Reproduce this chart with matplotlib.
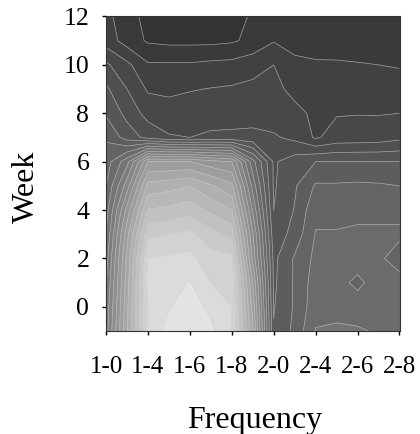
import matplotlib
matplotlib.use('Agg')
import matplotlib.pyplot as plt
import numpy as np

plt.rcParams['font.family'] = ['Liberation Serif', 'DejaVu Serif']

# frequency columns run in half tick steps, weeks run from -1 to 12
freq_pos = [0, .5, 1, 1.5, 2, 2.5, 3, 3.5, 4, 4.5, 5, 5.5, 6, 6.5, 7]
freq_ticks = [0, 1, 2, 3, 4, 5, 6, 7]
freq_labels = ['1-0', '1-4', '1-6', '1-8', '2-0', '2-4', '2-6', '2-8']
weeks = [12, 11, 10, 9, 8, 7, 6, 5, 4, 3, 2, 1, 0, -1]
week_ticks = [0, 2, 4, 6, 8, 10, 12]

# one row per week, top of the chart first
w12 = [66, 60, 53, 52, 52, 52, 53, 57, 58, 58, 58, 58, 58, 58, 58]
w11 = [68.5, 60.5, 55, 54, 54, 54, 55, 58, 63.5, 61, 60.5, 60, 60, 60, 60]
w10 = [81.5, 74, 65, 65, 65, 66, 66.5, 69, 72, 66, 65, 65, 64.5, 64, 63.4]
w9 = [89.5, 80, 71, 71, 71.5, 72.3, 73, 74, 74, 70, 69, 68.5, 68, 68, 67.5]
w8 = [95, 85.5, 77, 74, 76, 75, 76, 77, 76, 74, 70.5, 71.5, 71.7, 71.6, 72]
w7 = [103, 92.5, 85.5, 81, 80, 82, 82, 82, 81, 78, 71, 75, 75.5, 76, 78]
w6 = [108, 125, 160, 160, 160, 155, 152, 115, 87, 92, 96, 96, 96, 96, 96]
w5 = [112, 140, 179, 181, 184, 177, 170, 125, 87, 95, 105, 105, 105.5, 105, 104]
w4 = [116, 155, 192.5, 194, 196.5, 190, 184, 135, 88, 96.5, 110, 110, 109, 109, 109]
w3 = [120, 165, 206, 208, 210, 203, 197, 145, 91, 99, 112.5, 112.5, 114, 114, 114]
w2 = [124, 170, 216, 217.5, 218.5, 211, 210, 150, 94, 105, 114, 115, 116, 114, 107]
w1 = [127, 172, 219, 221, 224.5, 216, 216, 160, 94.5, 105, 116, 115, 110, 116, 116]
w0 = [130, 174, 216, 223.5, 228, 222, 216, 165, 95.5, 105, 117, 118, 116, 118, 117]
wm1 = [132, 175, 216, 228, 232.5, 226, 216, 170, 96.5, 106, 120.5, 121, 121, 119, 118]

levels = np.arange(40, 241, 8)

Z = np.array([w12, w11, w10, w9, w8, w7, w6, w5, w4, w3, w2, w1, w0, wm1])

# band greys, a little darker than the level itself in the middle of the range
mids = (levels[:-1] + levels[1:]) / 2
greys = np.interp(mids, [40, 116, 240], [40, 107, 240]) / 255
band_colors = [(g, g, g) for g in greys]

fig = plt.figure(figsize=(4.2, 4.34), dpi=100)
ax = fig.add_axes([106 / 420, 1 - 331 / 434, 293.5 / 420, 314.5 / 434])

ax.contourf(freq_pos, weeks, Z, levels=levels, colors=band_colors)
ax.contour(freq_pos, weeks, Z, levels=levels, colors='#c8c8c8', linewidths=0.5, alpha=0.7)

ax.set_xlim(0, 7)
ax.set_ylim(-1, 12)
ax.set_xticks(freq_ticks)
ax.set_xticklabels(freq_labels)
ax.set_yticks(week_ticks)
ax.tick_params(axis='x', labelsize=18, length=3, width=1, pad=15)
ax.tick_params(axis='y', labelsize=18.5, length=3, width=1, pad=9)
for s in ax.spines.values():
    s.set_linewidth(0.8)
    s.set_color('#333333')

ax.set_xlabel('Frequency', fontsize=23, labelpad=20, x=0.505)
ax.set_ylabel('Week', fontsize=23, labelpad=16, y=0.458)

fig.savefig('out.png', dpi=100)
